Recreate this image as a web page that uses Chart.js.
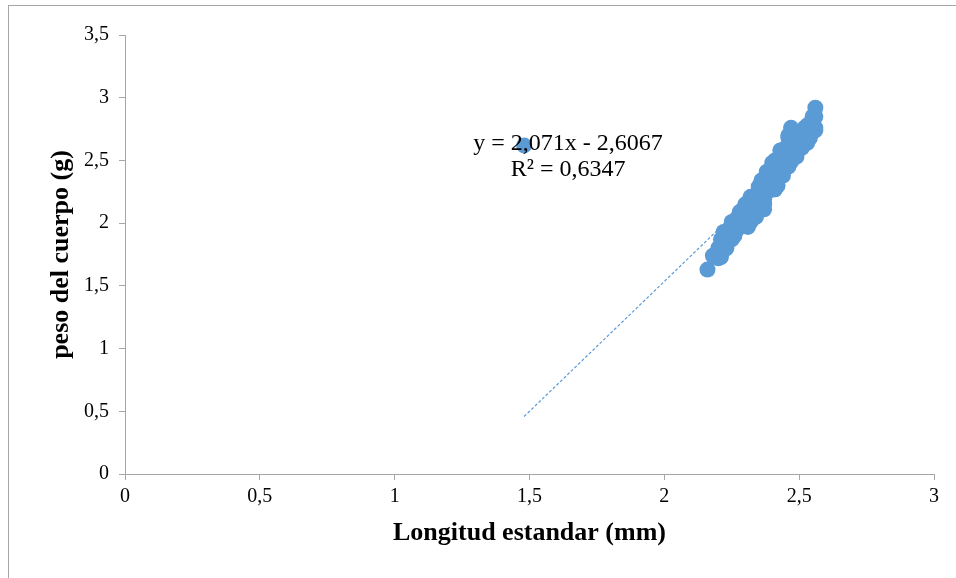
<!DOCTYPE html>
<html>
<head>
<meta charset="utf-8">
<script src="https://cdn.jsdelivr.net/npm/chart.js@4.4.1/dist/chart.umd.min.js"></script>
<style>
html,body{margin:0;padding:0;background:#fff;}
#wrap{width:956px;height:578px;position:relative;}
</style>
</head>
<body>
<div id="wrap"><canvas id="c" width="956" height="578"></canvas></div>
<script>
// Data
const longitudX = [1.48,
  2.16, 2.18, 2.20, 2.21, 2.21, 2.22, 2.24, 2.25, 2.27, 2.31,
  2.28, 2.30, 2.32, 2.32, 2.34, 2.35, 2.37, 2.36, 2.38, 2.39,
  2.40, 2.41, 2.42, 2.43, 2.43, 2.45, 2.45, 2.47, 2.47, 2.48,
  2.50, 2.51, 2.53, 2.54, 2.55, 2.56, 2.56, 2.56, 2.46, 2.41,
  2.44, 2.50, 2.29, 2.26, 2.35, 2.38, 2.33, 2.22, 2.24, 2.52,
  2.48, 2.39, 2.55, 2.50, 2.47, 2.44, 2.41, 2.37, 2.34, 2.25,
  2.21, 2.28, 2.31, 2.36, 2.40, 2.43, 2.46, 2.49, 2.52, 2.23,
  2.56, 2.53, 2.49, 2.46, 2.43, 2.41, 2.37, 2.34, 2.55, 2.46,
  2.43, 2.40, 2.38, 2.35, 2.32, 2.50, 2.47, 2.45, 2.41, 2.38,
  2.35, 2.37, 2.32, 2.22, 2.20, 2.30, 2.27, 2.24, 2.23, 2.21,
  2.19];
const pesoY = [2.62,
  1.63, 1.74, 1.80, 1.75, 1.87, 1.93, 1.87, 2.01, 1.95, 1.97,
  2.09, 2.15, 2.07, 2.21, 2.13, 2.26, 2.19, 2.34, 2.41, 2.26,
  2.34, 2.46, 2.30, 2.54, 2.42, 2.60, 2.46, 2.76, 2.66, 2.54,
  2.70, 2.60, 2.78, 2.68, 2.82, 2.76, 2.92, 2.85, 2.70, 2.50,
  2.55, 2.65, 2.05, 1.90, 2.20, 2.30, 2.20, 1.82, 1.95, 2.72,
  2.62, 2.38, 2.73, 2.60, 2.49, 2.38, 2.27, 2.15, 2.07, 1.87,
  1.73, 2.00, 2.10, 2.28, 2.40, 2.48, 2.58, 2.68, 2.76, 1.80,
  2.74, 2.64, 2.53, 2.45, 2.37, 2.27, 2.16, 2.05, 2.85, 2.68,
  2.58, 2.48, 2.40, 2.29, 2.19, 2.66, 2.58, 2.50, 2.38, 2.31,
  2.20, 2.11, 2.01, 1.79, 1.72, 2.13, 2.04, 1.95, 1.87, 1.79,
  1.73];
const trendSlope = 2.071;
const trendIntercept = -2.6067;
const trendR2 = 0.6347;
const xTicks = [0, 0.5, 1, 1.5, 2, 2.5, 3];
const yTicks = [0, 0.5, 1, 1.5, 2, 2.5, 3, 3.5];
const xTitle = 'Longitud estandar (mm)';
const yTitle = 'peso del cuerpo (g)';

const fmt = v => String(v).replace('.', ',');
const points = longitudX.map((x, i) => ({x: x, y: pesoY[i]}));
const xMin = Math.min(...longitudX), xMax = Math.max(...longitudX);
const trend = [xMin, xMax].map(x => ({x: x, y: trendSlope * x + trendIntercept}));
const eqLines = ['y = ' + fmt(trendSlope) + 'x - ' + fmt(-trendIntercept), 'R² = ' + fmt(trendR2)];

const frame = {
  id: 'frame',
  beforeDraw(chart) {
    const ctx = chart.ctx;
    ctx.save();
    ctx.fillStyle = '#fff';
    ctx.fillRect(0, 0, chart.width, chart.height);
    ctx.strokeStyle = '#a6a6a6';
    ctx.lineWidth = 1;
    ctx.strokeRect(8.5, 5.5, chart.width + 10, chart.height + 10);
    ctx.restore();
  },
  afterDatasetsDraw(chart) {
    const ctx = chart.ctx;
    const xs = chart.scales.x, ys = chart.scales.y;
    ctx.save();
    ctx.fillStyle = '#000';
    ctx.font = '24px "Liberation Serif"';
    ctx.textAlign = 'center';
    ctx.textBaseline = 'middle';
    const cx = xs.getPixelForValue(1.643);
    ctx.fillText(eqLines[0], cx, ys.getPixelForValue(2.632));
    ctx.fillText(eqLines[1], cx, ys.getPixelForValue(2.424));
    ctx.restore();
  }
};

new Chart(document.getElementById('c'), {
  type: 'scatter',
  data: {
    datasets: [
      {
        label: 'peso',
        data: points,
        backgroundColor: '#5b9bd5',
        borderWidth: 0,
        pointRadius: 8,
        pointHoverRadius: 8
      },
      {
        label: 'tendencia',
        data: trend,
        showLine: true,
        borderColor: '#5b9bd5',
        borderWidth: 1.2,
        borderDash: [3, 2],
        pointRadius: 0,
        fill: false
      }
    ]
  },
  options: {
    responsive: false,
    animation: false,
    devicePixelRatio: 1,
    layout: {padding: {left: 0, top: 35, right: 22, bottom: 0}},
    plugins: {legend: {display: false}, tooltip: {enabled: false}},
    scales: {
      x: {
        type: 'linear', min: 0, max: 3,
        afterBuildTicks: s => { s.ticks = xTicks.map(v => ({value: v})); },
        afterFit: s => { s.height = 104; },
        grid: {display: true, drawOnChartArea: false, drawTicks: true, tickLength: 6, color: '#a6a6a6'},
        border: {display: true, color: '#a6a6a6', width: 1},
        ticks: {color: '#000', font: {family: 'Liberation Serif', size: 20}, padding: 5, callback: v => fmt(v), maxRotation: 0},
        title: {display: true, text: xTitle, color: '#000', font: {family: 'Liberation Serif', size: 26, weight: 'bold'}, padding: {top: 0, bottom: 29}}
      },
      y: {
        type: 'linear', min: 0, max: 3.5,
        afterBuildTicks: s => { s.ticks = yTicks.map(v => ({value: v})); },
        afterFit: s => { s.width = 125; },
        grid: {display: true, drawOnChartArea: false, drawTicks: true, tickLength: 6, color: '#a6a6a6'},
        border: {display: true, color: '#a6a6a6', width: 1},
        ticks: {color: '#000', font: {family: 'Liberation Serif', size: 20}, padding: 10, callback: v => fmt(v)},
        title: {display: true, text: yTitle, color: '#000', font: {family: 'Liberation Serif', size: 26, weight: 'bold'}, padding: {top: 46, bottom: 0}}
      }
    }
  },
  plugins: [frame]
});
</script>
</body>
</html>
